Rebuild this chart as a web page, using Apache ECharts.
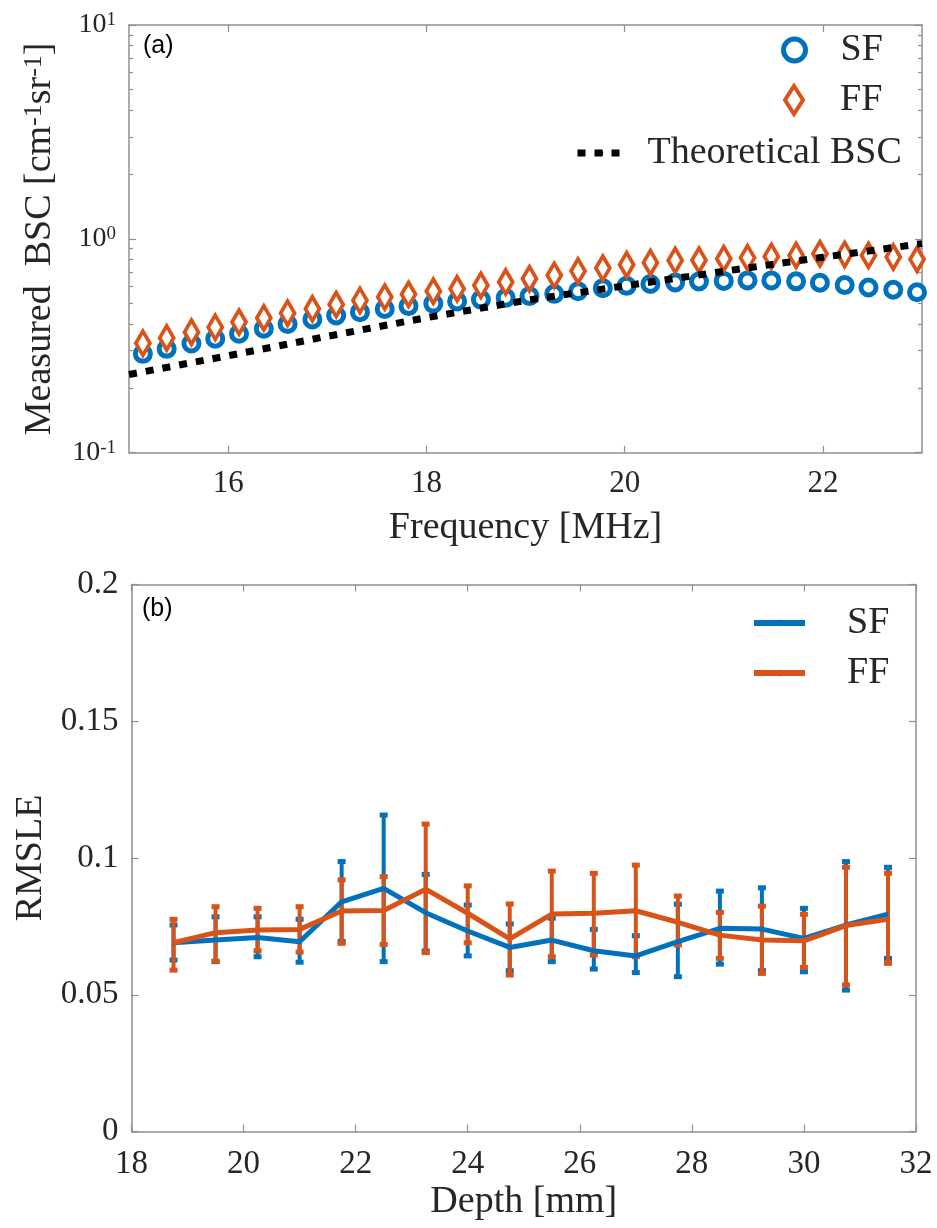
<!DOCTYPE html>
<html>
<head>
<meta charset="utf-8">
<script src="https://cdn.jsdelivr.net/npm/echarts@6/dist/echarts.min.js"></script>
<style>
html,body{margin:0;padding:0;background:#fff;}
#chart{width:937px;height:1228px;}
</style>
</head>
<body>
<div id="chart"></div>
<script>
// ---------- Panel (a) data ----------
const freq = [15.14, 15.38, 15.63, 15.87, 16.11, 16.36, 16.60, 16.85, 17.09, 17.33, 17.58, 17.82, 18.07, 18.31, 18.55, 18.80, 19.04, 19.29, 19.53, 19.78, 20.02, 20.26, 20.51, 20.75, 21.00, 21.24, 21.48, 21.73, 21.97, 22.22, 22.46, 22.71, 22.95];
const bscSF = [0.290, 0.306, 0.324, 0.341, 0.360, 0.380, 0.400, 0.420, 0.438, 0.454, 0.470, 0.485, 0.498, 0.510, 0.520, 0.530, 0.540, 0.553, 0.569, 0.588, 0.603, 0.615, 0.625, 0.632, 0.636, 0.639, 0.639, 0.633, 0.623, 0.608, 0.592, 0.578, 0.563];
const bscFF = [0.325, 0.344, 0.366, 0.386, 0.408, 0.427, 0.449, 0.471, 0.493, 0.515, 0.534, 0.550, 0.569, 0.584, 0.606, 0.628, 0.651, 0.675, 0.707, 0.730, 0.757, 0.774, 0.793, 0.795, 0.808, 0.816, 0.828, 0.837, 0.852, 0.845, 0.837, 0.822, 0.802];
const theoryFreq = [15, 16, 17, 18, 19, 20, 21, 22, 23];
const theoryBSC = [0.232, 0.284, 0.350, 0.428, 0.515, 0.603, 0.705, 0.820, 0.950];
const freqTicks = [16, 18, 20, 22];
const bscMajorTicks = [0.1, 1, 10];
const bscMinorTicks = [0.2, 0.3, 0.4, 0.5, 0.6, 0.7, 0.8, 0.9, 2, 3, 4, 5, 6, 7, 8, 9];

// ---------- Panel (b) data ----------
const depth = [18.75, 19.5, 20.25, 21, 21.75, 22.5, 23.25, 24, 24.75, 25.5, 26.25, 27, 27.75, 28.5, 29.25, 30, 30.75, 31.5];
const sfMean = [0.0690, 0.0700, 0.0709, 0.0694, 0.0840, 0.0889, 0.0800, 0.0733, 0.0673, 0.0700, 0.0661, 0.0642, 0.0694, 0.0743, 0.0740, 0.0706, 0.0755, 0.0795];
const sfHigh = [0.0755, 0.0785, 0.0785, 0.0776, 0.0987, 0.1157, 0.0940, 0.0828, 0.0759, 0.0780, 0.0739, 0.0716, 0.0831, 0.0879, 0.0891, 0.0816, 0.0987, 0.0966];
const sfLow  = [0.0627, 0.0621, 0.0639, 0.0619, 0.0695, 0.0621, 0.0660, 0.0642, 0.0588, 0.0621, 0.0594, 0.0581, 0.0566, 0.0612, 0.0588, 0.0584, 0.0517, 0.0633];
const ffMean = [0.0690, 0.0727, 0.0737, 0.0739, 0.0806, 0.0808, 0.0886, 0.0798, 0.0704, 0.0795, 0.0798, 0.0807, 0.0765, 0.0718, 0.0700, 0.0697, 0.0753, 0.0776];
const ffHigh = [0.0776, 0.0822, 0.0816, 0.0822, 0.0920, 0.0932, 0.1124, 0.0898, 0.0832, 0.0952, 0.0944, 0.0974, 0.0861, 0.0801, 0.0824, 0.0794, 0.0966, 0.0944];
const ffLow  = [0.0590, 0.0623, 0.0661, 0.0656, 0.0688, 0.0684, 0.0654, 0.0690, 0.0572, 0.0639, 0.0645, 0.0639, 0.0682, 0.0633, 0.0578, 0.0600, 0.0536, 0.0615];

// ---------- styling ----------
const BLUE = '#0072BD';
const ORANGE = '#D95319';
const AXIS = '#8f8f8f';
const TXT = '#262626';
const SERIF = 'Liberation Serif';

const chart = echarts.init(document.getElementById('chart'), null, {renderer: 'canvas'});

function boxAxis(extra) {
  return Object.assign({
    axisLine: {show: true, onZero: false, lineStyle: {color: AXIS, width: 1.5}},
    axisTick: {show: true, inside: true, length: 7, lineStyle: {color: AXIS, width: 1.2}},
    axisLabel: {show: false},
    splitLine: {show: false}
  }, extra);
}

function errRender(color) {
  return function (params, api) {
    const x = api.value(0), lo = api.value(1), hi = api.value(2);
    const pHi = api.coord([x, hi]);
    const pLo = api.coord([x, lo]);
    const cw = 4;
    return {
      type: 'group',
      children: [
        {type: 'line', shape: {x1: pHi[0], y1: pHi[1], x2: pLo[0], y2: pLo[1]}, style: {stroke: color, lineWidth: 4}},
        {type: 'line', shape: {x1: pHi[0] - cw, y1: pHi[1], x2: pHi[0] + cw, y2: pHi[1]}, style: {stroke: color, lineWidth: 5}},
        {type: 'line', shape: {x1: pLo[0] - cw, y1: pLo[1], x2: pLo[0] + cw, y2: pLo[1]}, style: {stroke: color, lineWidth: 5}}
      ]
    };
  };
}

const supRich = {
  b: {fontFamily: SERIF, fontSize: 28, color: TXT, lineHeight: 28, padding: [9, 0, 0, 0], verticalAlign: 'bottom'},
  s: {fontFamily: SERIF, fontSize: 19, color: TXT, lineHeight: 19, verticalAlign: 'top'}
};
const nameRich = {
  t: {fontFamily: SERIF, fontSize: 38, color: TXT, lineHeight: 38, padding: [13, 0, 0, 0], verticalAlign: 'bottom'},
  s: {fontFamily: SERIF, fontSize: 26, color: TXT, lineHeight: 26, verticalAlign: 'top'}
};

const legendText = {fontFamily: SERIF, fontSize: 38, color: TXT, lineHeight: 40};

const option = {
  animation: false,
  backgroundColor: '#fff',
  title: [
    {text: '(a)', left: 143, top: 34, padding: 0, textStyle: {fontFamily: 'Liberation Sans', fontSize: 25, fontWeight: 'normal', color: '#000'}},
    {text: '(b)', left: 142, top: 597, padding: 0, textStyle: {fontFamily: 'Liberation Sans', fontSize: 25, fontWeight: 'normal', color: '#000'}}
  ],
  grid: [
    {left: 128, right: 15, top: 25, height: 427.7},
    {left: 131.5, right: 21, top: 584.5, height: 547}
  ],
  legend: [
    {data: ['SF'], left: 781, top: 30, padding: 0, itemWidth: 22, itemHeight: 22, textStyle: Object.assign({padding: [0, 0, 0, 30]}, legendText),
     itemStyle: {color: '#fff', borderColor: BLUE, borderWidth: 5, opacity: 1}},
    {data: ['FF'], left: 783, top: 80, padding: 0, itemWidth: 18, itemHeight: 28, textStyle: Object.assign({padding: [0, 0, 0, 32]}, legendText),
     itemStyle: {color: '#fff', borderColor: ORANGE, borderWidth: 4, opacity: 1}},
    {data: ['Theoretical BSC'], left: 574, top: 133, padding: 0, itemWidth: 45, itemHeight: 8, textStyle: Object.assign({padding: [0, 0, 0, 20]}, legendText),
     lineStyle: {color: '#000', width: 7, type: [8, 9]}},
    {data: ['SF '], left: 751, top: 603, padding: 0, itemWidth: 51, itemHeight: 8, textStyle: Object.assign({padding: [0, 0, 0, 37]}, legendText),
     lineStyle: {width: 6}},
    {data: ['FF '], left: 751, top: 653, padding: 0, itemWidth: 51, itemHeight: 8, textStyle: Object.assign({padding: [0, 0, 0, 37]}, legendText),
     lineStyle: {width: 6}}
  ],
  xAxis: [
    boxAxis({gridIndex: 0, type: 'value', position: 'bottom', min: 15, max: 23,
      axisTick: {show: true, inside: true, length: 7, customValues: freqTicks, lineStyle: {color: AXIS, width: 1.2}},
      axisLabel: {show: true, customValues: freqTicks, fontFamily: SERIF, fontSize: 31, color: TXT, margin: 16},
      name: 'Frequency [MHz]', nameLocation: 'middle', nameGap: 56,
      nameTextStyle: {fontFamily: SERIF, fontSize: 38, color: TXT}}),
    boxAxis({gridIndex: 0, type: 'value', position: 'top', min: 15, max: 23,
      axisTick: {show: true, inside: true, length: 7, customValues: freqTicks, lineStyle: {color: AXIS, width: 1.2}}}),
    boxAxis({gridIndex: 1, type: 'value', position: 'bottom', min: 18, max: 32, interval: 2,
      axisLabel: {show: true, fontFamily: SERIF, fontSize: 33, color: TXT, margin: 16},
      name: 'Depth [mm]', nameLocation: 'middle', nameGap: 52,
      nameTextStyle: {fontFamily: SERIF, fontSize: 38, color: TXT}}),
    boxAxis({gridIndex: 1, type: 'value', position: 'top', min: 18, max: 32, interval: 2})
  ],
  yAxis: [
    boxAxis({gridIndex: 0, type: 'log', logBase: 10, position: 'left', min: 0.1, max: 10,
      axisTick: {show: true, inside: true, length: 7, customValues: bscMajorTicks, lineStyle: {color: AXIS, width: 1.2}},
      axisLabel: {show: true, customValues: bscMajorTicks, margin: 13,
        formatter: function (v) { return '{b|10}{s|' + Math.round(Math.log10(v)) + '}'; },
        rich: supRich},
      name: '{t|Measured  BSC [cm}{s|-1}{t|sr}{s|-1}{t|]}', nameLocation: 'middle', nameGap: 70,
      nameTextStyle: {rich: nameRich}}),
    boxAxis({gridIndex: 0, type: 'log', logBase: 10, position: 'right', min: 0.1, max: 10,
      axisTick: {show: true, inside: true, length: 7, customValues: bscMajorTicks, lineStyle: {color: AXIS, width: 1.2}}}),
    boxAxis({gridIndex: 0, type: 'log', logBase: 10, position: 'left', min: 0.1, max: 10,
      axisLine: {show: false},
      axisTick: {show: true, inside: true, length: 4, customValues: bscMinorTicks, lineStyle: {color: AXIS, width: 1.2}}}),
    boxAxis({gridIndex: 0, type: 'log', logBase: 10, position: 'right', min: 0.1, max: 10,
      axisLine: {show: false},
      axisTick: {show: true, inside: true, length: 4, customValues: bscMinorTicks, lineStyle: {color: AXIS, width: 1.2}}}),
    boxAxis({gridIndex: 1, type: 'value', position: 'left', min: 0, max: 0.2, interval: 0.05,
      axisLabel: {show: true, fontFamily: SERIF, fontSize: 33, color: TXT, margin: 13},
      name: 'RMSLE', nameLocation: 'middle', nameGap: 79,
      nameTextStyle: {fontFamily: SERIF, fontSize: 38, color: TXT}}),
    boxAxis({gridIndex: 1, type: 'value', position: 'right', min: 0, max: 0.2, interval: 0.05})
  ],
  series: [
    {name: 'SF', type: 'scatter', xAxisIndex: 0, yAxisIndex: 0,
      data: freq.map((f, i) => [f, bscSF[i]]),
      symbol: 'circle', symbolSize: 15,
      itemStyle: {color: '#fff', borderColor: BLUE, borderWidth: 5, opacity: 1}},
    {name: 'FF', type: 'scatter', xAxisIndex: 0, yAxisIndex: 0,
      data: freq.map((f, i) => [f, bscFF[i]]),
      symbol: 'diamond', symbolSize: [14, 24],
      itemStyle: {color: '#fff', borderColor: ORANGE, borderWidth: 4, opacity: 1}},
    {name: 'Theoretical BSC', type: 'line', xAxisIndex: 0, yAxisIndex: 0,
      data: theoryFreq.map((f, i) => [f, theoryBSC[i]]),
      symbol: 'none', color: '#000',
      lineStyle: {color: '#000', width: 7, type: [8, 9], cap: 'butt'}},

    {name: 'SF ', type: 'line', xAxisIndex: 2, yAxisIndex: 4,
      data: depth.map((d, i) => [d, sfMean[i]]),
      symbol: 'none', color: BLUE, lineStyle: {color: BLUE, width: 5}},
    {name: 'SF err', type: 'custom', xAxisIndex: 2, yAxisIndex: 4,
      data: depth.map((d, i) => [d, sfLow[i], sfHigh[i]]),
      encode: {x: 0, y: [1, 2]},
      renderItem: errRender(BLUE)},
    {name: 'FF ', type: 'line', xAxisIndex: 2, yAxisIndex: 4,
      data: depth.map((d, i) => [d, ffMean[i]]),
      symbol: 'none', color: ORANGE, lineStyle: {color: ORANGE, width: 5}},
    {name: 'FF err', type: 'custom', xAxisIndex: 2, yAxisIndex: 4,
      data: depth.map((d, i) => [d, ffLow[i], ffHigh[i]]),
      encode: {x: 0, y: [1, 2]},
      renderItem: errRender(ORANGE)}
  ]
};

chart.setOption(option);
</script>
</body>
</html>
